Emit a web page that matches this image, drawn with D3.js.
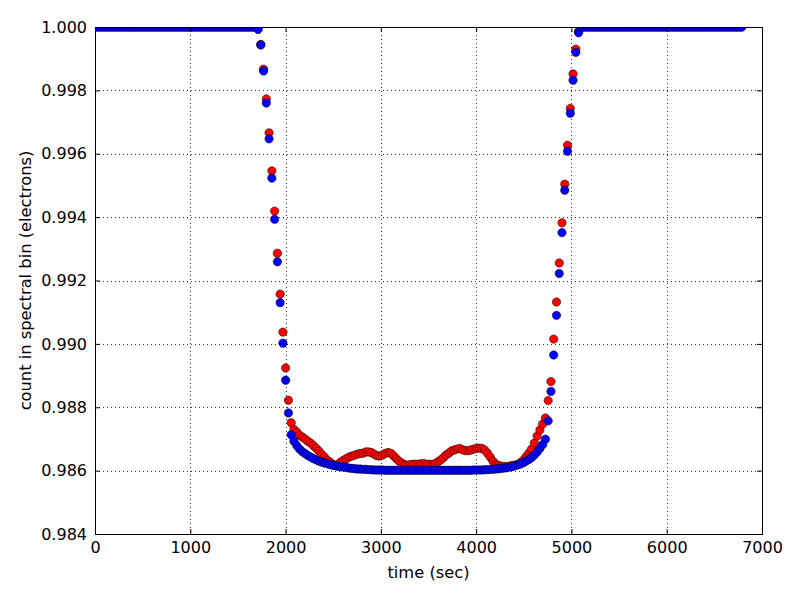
<!DOCTYPE html>
<html>
<head>
<meta charset="utf-8">
<script src="https://cdn.jsdelivr.net/npm/d3@7"></script>
<style>
  html, body { margin: 0; padding: 0; background: #fff; }
  svg { display: block; font-family: "DejaVu Sans", sans-serif; }
</style>
</head>
<body>
<svg id="chart" width="800" height="600"></svg>
<script>
// ---- data ----
const sampleStep = 29; // seconds between samples
const xTicks = [0, 1000, 2000, 3000, 4000, 5000, 6000, 7000];
const yTicks = [0.984, 0.986, 0.988, 0.990, 0.992, 0.994, 0.996, 0.998, 1.000];

const redCounts = [
  // 0-58 (out of transit)
  1,1,1,1,1,1,1,1,1,1, 1,1,1,1,1,1,1,1,1,1, 1,1,1,1,1,1,1,1,1,1,
  1,1,1,1,1,1,1,1,1,1, 1,1,1,1,1,1,1,1,1,1, 1,1,1,1,1,1,1,1,1,
  /* 59 */ 0.99993,0.99945,0.99867,0.99773,0.99666,0.99546,0.99419,0.99286,0.99157,0.99037,
  /* 69 */ 0.98924,0.98822,0.98751,0.98730,0.98722,0.98712,0.98706,0.98700,0.98693,0.98687,
  /* 79 */ 0.98679,0.98671,0.98662,0.98652,0.98643,0.98633,0.98627,0.98620,0.98617,0.98620,
  /* 89 */ 0.98627,0.98633,0.98638,0.98643,0.98646,0.98649,0.98652,0.98654,0.98655,0.98659,
  /* 99 */ 0.98659,0.98657,0.98652,0.98647,0.98646,0.98649,0.98654,0.98657,0.98655,0.98647,
  /*109 */ 0.98638,0.98630,0.98624,0.98619,0.98617,0.98619,0.98620,0.98620,0.98620,0.98622,
  /*119 */ 0.98622,0.98620,0.98620,0.98619,0.98622,0.98627,0.98633,0.98640,0.98649,0.98655,
  /*129 */ 0.98662,0.98665,0.98668,0.98670,0.98666,0.98663,0.98663,0.98665,0.98668,0.98670,
  /*139 */ 0.98671,0.98670,0.98665,0.98655,0.98643,0.98630,0.98620,0.98616,0.98614,0.98613,
  /*149 */ 0.98613,0.98614,0.98616,0.98617,0.98620,0.98625,0.98633,0.98644,0.98655,0.98668,
  /*159 */ 0.98687,0.98709,0.98728,0.98747,0.98766,0.98821,0.98881,0.99015,0.99132,0.99255,
  /*169 */ 0.99382,0.99504,0.99627,0.99743,0.99852,0.99930,0.99986,
  // 176-234 (out of transit)
  1,1,1,1,1,1,1,1,1,1, 1,1,1,1,1,1,1,1,1,1, 1,1,1,1,1,1,1,1,1,1,
  1,1,1,1,1,1,1,1,1,1, 1,1,1,1,1,1,1,1,1,1, 1,1,1,1,1,1,1,1,1
];

const blueCounts = [
  // 0-58 (out of transit)
  1,1,1,1,1,1,1,1,1,1, 1,1,1,1,1,1,1,1,1,1, 1,1,1,1,1,1,1,1,1,1,
  1,1,1,1,1,1,1,1,1,1, 1,1,1,1,1,1,1,1,1,1, 1,1,1,1,1,1,1,1,1,
  /* 59 */ 0.99993,0.99943,0.99861,0.99760,0.99647,0.99523,0.99393,0.99259,0.99130,0.99002,
  /* 69 */ 0.98885,0.98782,0.98713,0.98693,0.98679,0.98668,0.98660,0.98654,0.98648,0.98643,
  /* 79 */ 0.98638,0.98634,0.98630,0.98627,0.98624,0.98622,0.98619,0.98617,0.98615,0.98614,
  /* 89 */ 0.98612,0.98611,0.98610,0.98608,0.98607,0.98606,0.98605,0.98605,0.98604,0.98604,
  /* 99 */ 0.98603,0.98603,0.98602,0.98602,0.98602,0.98602,0.98601,0.98601,0.98601,0.98601,
  /*109 */ 0.98601,0.98601,0.98601,0.98601,0.98601,0.98601,0.98601,0.98601,0.98601,0.98601,
  /*119 */ 0.98601,0.98601,0.98601,0.98601,0.98601,0.98601,0.98601,0.98601,0.98601,0.98601,
  /*129 */ 0.98601,0.98601,0.98601,0.98601,0.98601,0.98601,0.98601,0.98601,0.98602,0.98602,
  /*139 */ 0.98602,0.98602,0.98603,0.98603,0.98604,0.98604,0.98605,0.98606,0.98607,0.98608,
  /*149 */ 0.98609,0.98611,0.98613,0.98615,0.98618,0.98621,0.98625,0.98630,0.98635,0.98641,
  /*159 */ 0.98649,0.98659,0.98670,0.98682,0.98699,0.98757,0.98850,0.98965,0.99090,0.99222,
  /*169 */ 0.99351,0.99485,0.99608,0.99728,0.99832,0.99920,0.99982,
  // 176-234 (out of transit)
  1,1,1,1,1,1,1,1,1,1, 1,1,1,1,1,1,1,1,1,1, 1,1,1,1,1,1,1,1,1,1,
  1,1,1,1,1,1,1,1,1,1, 1,1,1,1,1,1,1,1,1,1, 1,1,1,1,1,1,1,1,1
];

// ---- layout ----
const margin = { left: 95, right: 38, top: 27, bottom: 66 };
const W = 800, H = 600;
const pw = W - margin.left - margin.right;
const ph = H - margin.top - margin.bottom;

const svg = d3.select("#chart");
const g = svg.append("g").attr("transform", `translate(${margin.left},${margin.top})`);

const x = d3.scaleLinear().domain([0, 7000]).range([0, pw]);
const y = d3.scaleLinear().domain([0.984, 1.000]).range([ph, 0]);

const series = [
  { name: "red", color: "#ff0000", values: redCounts },
  { name: "blue", color: "#0000ff", values: blueCounts }
];

// clip for markers
svg.append("defs").append("clipPath").attr("id", "plotclip")
  .append("rect").attr("x", 0).attr("y", 0).attr("width", pw).attr("height", ph);

const marks = g.append("g").attr("clip-path", "url(#plotclip)");
series.forEach(s => {
  marks.append("g").selectAll("circle")
    .data(s.values.map((v, i) => ({ t: i * sampleStep, v })))
    .join("circle")
    .attr("cx", d => x(d.t))
    .attr("cy", d => y(d.v))
    .attr("r", 4.2)
    .attr("fill", s.color)
    .attr("stroke", "#000")
    .attr("stroke-width", 0.5);
});

// grid (dotted, drawn above markers as in classic matplotlib)
const grid = g.append("g").attr("class", "grid");
grid.selectAll("line.gx").data(xTicks).join("line")
  .attr("x1", d => Math.round(x(d)) + 0.5).attr("x2", d => Math.round(x(d)) + 0.5)
  .attr("y1", 0).attr("y2", ph)
  .attr("stroke", "#000").attr("stroke-width", 0.8).attr("stroke-dasharray", "1,3");
grid.selectAll("line.gy").data(yTicks).join("line")
  .attr("y1", d => Math.round(y(d)) + 0.5).attr("y2", d => Math.round(y(d)) + 0.5)
  .attr("x1", 0).attr("x2", pw)
  .attr("stroke", "#000").attr("stroke-width", 0.8).attr("stroke-dasharray", "1,3");

// axes
const fmtY = d3.format(".3f");
const axB = g.append("g").attr("transform", `translate(0,${ph})`)
  .call(d3.axisBottom(x).tickValues(xTicks).tickFormat(d3.format("d")).tickSize(-5).tickPadding(8));
const axL = g.append("g")
  .call(d3.axisLeft(y).tickValues(yTicks).tickFormat(fmtY).tickSize(-5).tickPadding(8));
const axT = g.append("g")
  .call(d3.axisTop(x).tickValues(xTicks).tickFormat("").tickSize(-5));
const axR = g.append("g").attr("transform", `translate(${pw},0)`)
  .call(d3.axisRight(y).tickValues(yTicks).tickFormat("").tickSize(-5));

[axB, axL, axT, axR].forEach(a => {
  a.select(".domain").remove();
  a.selectAll(".tick line").attr("stroke", "#000").attr("stroke-width", 1);
  a.selectAll("text").attr("font-size", 16).attr("fill", "#000")
    .attr("font-family", "'DejaVu Sans', sans-serif");
});

// frame
g.append("rect").attr("x", 0.5).attr("y", 0.5).attr("width", pw).attr("height", ph)
  .attr("fill", "none").attr("stroke", "#000").attr("stroke-width", 1);

// axis labels
svg.append("text")
  .attr("x", margin.left + pw / 2).attr("y", 578)
  .attr("text-anchor", "middle").attr("font-size", 16.3)
  .text("time (sec)");
svg.append("text")
  .attr("transform", `translate(31,${margin.top + ph / 2}) rotate(-90)`)
  .attr("text-anchor", "middle").attr("font-size", 16.3)
  .text("count in spectral bin (electrons)");
</script>
</body>
</html>
